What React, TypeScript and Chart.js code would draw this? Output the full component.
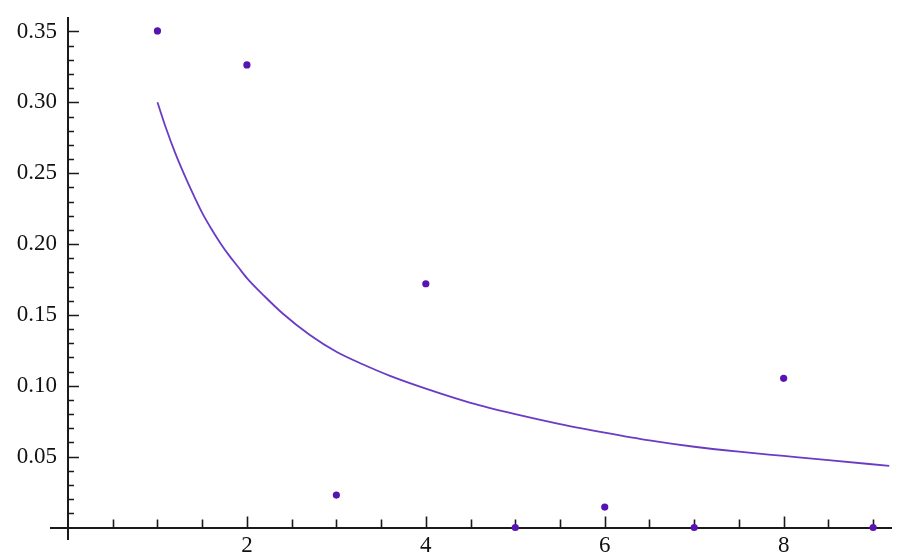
import React, { useEffect, useRef } from "react";
import { Chart, registerables } from "chart.js";

Chart.register(...registerables);

// Observed points
const pointX = [1, 2, 3, 4, 5, 6, 7, 8, 9];
const pointY = [0.3504, 0.3264, 0.0229, 0.172, 0, 0.0144, 0, 0.1053, 0];

// Fitted curve
const curveX = [1.0, 1.1, 1.2, 1.3, 1.4, 1.5, 1.6, 1.7, 1.8, 1.9, 2.0, 2.2, 2.4, 2.7, 3.0, 3.3, 3.6, 4.0, 4.5, 5.0, 5.5, 6.0, 6.5, 7.0, 7.5, 8.0, 8.5, 9.18];
const curveY = [0.3, 0.281, 0.264, 0.249, 0.235, 0.222, 0.211, 0.201, 0.192, 0.184, 0.176, 0.163, 0.151, 0.136, 0.124, 0.115, 0.107, 0.098, 0.088, 0.08, 0.073, 0.067, 0.0615, 0.057, 0.0535, 0.0505, 0.0475, 0.0435];

// Axis ticks
const xTickValues = [2, 4, 6, 8];
const xTickLabels = ["2", "4", "6", "8"];
const xMinorTicks = [0.5, 1, 1.5, 2.5, 3, 3.5, 4.5, 5, 5.5, 6.5, 7, 7.5, 8.5, 9];
const yTickValues = [0.05, 0.1, 0.15, 0.2, 0.25, 0.3, 0.35];
const yTickLabels = ["0.05", "0.10", "0.15", "0.20", "0.25", "0.30", "0.35"];
const yMinorTicks = [
  0.01, 0.02, 0.03, 0.04, 0.06, 0.07, 0.08, 0.09, 0.11, 0.12, 0.13, 0.14, 0.16, 0.17, 0.18, 0.19,
  0.21, 0.22, 0.23, 0.24, 0.26, 0.27, 0.28, 0.29, 0.31, 0.32, 0.33, 0.34,
];

const AXIS_COLOR = "#1a1a1a";
const FONT = "'Liberation Serif', 'DejaVu Serif', serif";

const tickPlugin = {
  id: "mathTicks",
  beforeDatasetsDraw(chart: any) {
    const ctx = chart.ctx;
    const xs = chart.scales.x;
    const ys = chart.scales.y;
    const x0 = xs.getPixelForValue(0);
    const y0 = ys.getPixelForValue(0);
    ctx.save();
    ctx.strokeStyle = AXIS_COLOR;
    // x-axis stub left of the y axis
    ctx.lineWidth = 2;
    ctx.beginPath();
    ctx.moveTo(x0 - 18, Math.round(y0));
    ctx.lineTo(x0, Math.round(y0));
    ctx.stroke();
    ctx.lineWidth = 1.6;
    ctx.beginPath();
    yTickValues.forEach((v) => {
      const p = Math.round(ys.getPixelForValue(v)) + 0.5;
      ctx.moveTo(x0, p);
      ctx.lineTo(x0 + 11, p);
    });
    yMinorTicks.forEach((v) => {
      const p = Math.round(ys.getPixelForValue(v)) + 0.5;
      ctx.moveTo(x0, p);
      ctx.lineTo(x0 + 6, p);
    });
    xTickValues.forEach((v) => {
      const p = Math.round(xs.getPixelForValue(v)) + 0.5;
      ctx.moveTo(p, y0);
      ctx.lineTo(p, y0 - 11);
    });
    xMinorTicks.forEach((v) => {
      const p = Math.round(xs.getPixelForValue(v)) + 0.5;
      ctx.moveTo(p, y0);
      ctx.lineTo(p, y0 - 8);
    });
    ctx.stroke();
    ctx.restore();
  },
};

export default function App() {
  const canvasRef = useRef<HTMLCanvasElement | null>(null);

  useEffect(() => {
    if (!canvasRef.current) return;
    const chart = new Chart(canvasRef.current, {
      type: "scatter",
      data: {
        datasets: [
          {
            label: "fit",
            type: "line",
            data: curveX.map((x, i) => ({ x, y: curveY[i] })),
            borderColor: "#6a3cc6",
            borderWidth: 1.8,
            pointRadius: 0,
            fill: false,
            cubicInterpolationMode: "monotone",
            order: 2,
          },
          {
            label: "data",
            data: pointX.map((x, i) => ({ x, y: pointY[i] })),
            backgroundColor: "#5814b2",
            borderColor: "#5814b2",
            pointRadius: 3.6,
            borderWidth: 0,
            order: 1,
          },
        ],
      },
      options: {
        animation: false,
        responsive: true,
        maintainAspectRatio: false,
        layout: { padding: { left: 0, right: 26, top: 18, bottom: 20 } },
        plugins: {
          legend: { display: false },
          tooltip: { enabled: false },
        },
        scales: {
          x: {
            type: "linear",
            min: 0,
            max: 9.2,
            position: { y: 0 } as any,
            afterBuildTicks: (scale: any) => {
              scale.ticks = xTickValues.map((v) => ({ value: v }));
            },
            afterFit: (scale: any) => {
              scale.paddingLeft = 0;
              scale.paddingRight = 0;
              scale.paddingTop = 0;
              scale.paddingBottom = 0;
            },
            grid: { display: false, drawTicks: false },
            border: { display: true, color: AXIS_COLOR, width: 2 },
            ticks: {
              padding: 5,
              color: "#111",
              font: { family: FONT, size: 23 },
              maxRotation: 0,
              autoSkip: false,
              callback: (_v: any, i: number) => xTickLabels[i],
            },
          },
          y: {
            type: "linear",
            min: -0.0081,
            max: 0.3595,
            position: "left",
            afterBuildTicks: (scale: any) => {
              scale.ticks = yTickValues.map((v) => ({ value: v }));
            },
            afterFit: (scale: any) => {
              scale.width = 68;
              scale.paddingLeft = 0;
              scale.paddingRight = 0;
              scale.paddingTop = 0;
              scale.paddingBottom = 0;
            },
            grid: { display: false, drawTicks: false },
            border: { display: true, color: AXIS_COLOR, width: 2 },
            ticks: {
              padding: 11,
              color: "#111",
              font: { family: FONT, size: 23 },
              autoSkip: false,
              callback: (_v: any, i: number) => yTickLabels[i],
            },
          },
        },
      },
      plugins: [tickPlugin],
    } as any);
    return () => chart.destroy();
  }, []);

  return (
    <div style={{ position: "fixed", left: 0, top: 0, width: 917, height: 559, background: "#fff" }}>
      <canvas ref={canvasRef} />
    </div>
  );
}
